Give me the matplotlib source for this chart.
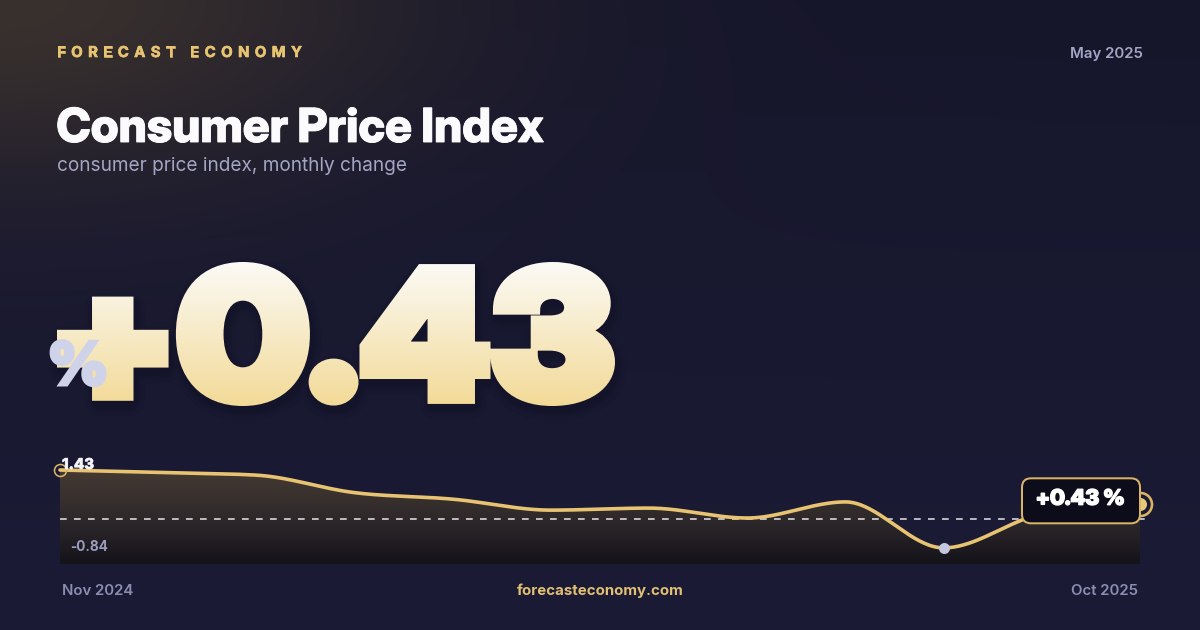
import os
import numpy as np
import matplotlib
matplotlib.use("Agg")
import matplotlib.pyplot as plt
from matplotlib.patches import Polygon, FancyBboxPatch
from matplotlib.textpath import TextPath, text_to_path
from matplotlib.font_manager import FontProperties, fontManager
from matplotlib.patheffects import AbstractPathEffect, withStroke
import matplotlib.transforms as mtransforms

# ---------------- data ----------------
months = ["Nov 2024", "Dec 2024", "Jan 2025", "Feb 2025", "Mar 2025", "Apr 2025",
          "May 2025", "Jun 2025", "Jul 2025", "Aug 2025", "Sep 2025", "Oct 2025"]
cpi_change = [1.43, 1.36, 1.28, 0.77, 0.58, 0.26, 0.32, 0.03, 0.50, -0.84, 0.15, 0.43]
baseline = 0.0
brand = "FORECAST ECONOMY"
title = "Consumer Price Index"
subtitle = "consumer price index, monthly change"
date_label = "May 2025"
site = "forecasteconomy.com"
latest_value = cpi_change[-1]

# ---------------- style ----------------
GOLD = "#e8c472"
W, H, DPI = 1200, 630, 100
plt.rcParams["lines.scale_dashes"] = False


def px(p):
    """pixel size -> points"""
    return p * 72.0 / DPI


def fprop(basename, family, weight, size_px):
    for f in fontManager.ttflist:
        if os.path.basename(f.fname) == basename:
            return FontProperties(fname=f.fname, size=px(size_px))
    return FontProperties(family=family, weight=weight, size=px(size_px))


class GradientText(AbstractPathEffect):
    """Fills (and emboldens) text glyphs with a vertical colour gradient."""

    def __init__(self, c_top, c_bot, stroke_px, target_w=None, shadow=()):
        super().__init__()
        self.c_top = np.asarray(c_top, float)
        self.c_bot = np.asarray(c_bot, float)
        self.stroke = stroke_px
        self.target_w = target_w
        self.shadow = shadow

    def draw_path(self, renderer, gc, tpath, affine, rgbFace=None):
        ext0 = tpath.get_extents(affine)
        sx = 1.0 if self.target_w is None else (self.target_w - self.stroke) / ext0.width
        aff = affine + mtransforms.Affine2D().translate(-ext0.x0, 0).scale(sx, 1).translate(ext0.x0, 0)
        ext = tpath.get_extents(aff)
        for dx, dy, lw, a in self.shadow:
            g = renderer.new_gc()
            g.copy_properties(gc)
            g.set_foreground((0.02, 0.02, 0.05))
            g.set_alpha(a)
            g.set_linewidth(px(lw))
            g.set_joinstyle("round")
            renderer.draw_path(g, tpath, aff + mtransforms.Affine2D().translate(dx, -dy), (0.02, 0.02, 0.05, a))
            g.restore()
        half = self.stroke / 2.0
        ytop = np.ceil(ext.y1 + half + 1)
        ybot = np.floor(ext.y0 - half - 1)
        edges = np.arange(ybot, ytop + 2, 2)
        for i in range(len(edges) - 1):
            mid = 0.5 * (edges[i] + edges[i + 1])
            f = np.clip((ytop - mid) / (ytop - ybot), 0, 1)
            col = tuple(self.c_top * (1 - f) + self.c_bot * f)
            g = renderer.new_gc()
            g.copy_properties(gc)
            g.set_clip_rectangle(mtransforms.Bbox([[ext.x0 - 60, edges[i]], [ext.x1 + 60, edges[i + 1]]]))
            g.set_foreground(col)
            g.set_alpha(1.0)
            g.set_linewidth(px(self.stroke))
            g.set_joinstyle("miter")
            renderer.draw_path(g, tpath, aff, col)
            g.restore()


def bolder(lw_px, color):
    return [withStroke(linewidth=px(lw_px), foreground=color, joinstyle="miter")]


fig = plt.figure(figsize=(W / DPI, H / DPI), dpi=DPI)

# background axes in pixel coordinates (top-down)
bg = fig.add_axes([0, 0, 1, 1])
bg.set_xlim(0, W)
bg.set_ylim(H, 0)
bg.axis("off")

yy, xx = np.mgrid[0:H, 0:W].astype(float)
top = np.array([0x16, 0x16, 0x2b]) / 255
bot = np.array([0x1b, 0x1b, 0x36]) / 255
base = top[None, None, :] * (1 - yy[..., None] / H) + bot[None, None, :] * (yy[..., None] / H)
glow_c = np.array([0x3c, 0x33, 0x2e]) / 255
w = np.exp(-((xx / 420) ** 2 + (yy / 185) ** 2))[..., None] * 0.92
img = base * (1 - w) + glow_c[None, None, :] * w
bg.imshow(img, extent=(0, W, H, 0), aspect="auto", zorder=0, interpolation="bilinear")

# ---------- header ----------
fp_brand = fprop("Inter-Bold.otf", "Inter", "bold", 15)
chars = list(brand)
widths = []
for ch in chars:
    if ch == " ":
        widths.append(text_to_path.get_text_width_height_descent("a a", fp_brand, ismath=False)[0]
                      - text_to_path.get_text_width_height_descent("aa", fp_brand, ismath=False)[0])
    else:
        widths.append(text_to_path.get_text_width_height_descent(ch, fp_brand, ismath=False)[0])
widths = np.array(widths) * DPI / 72.0
target_w = 245.0
spacing = (target_w - widths.sum()) / (len(chars) - 1)
xc = 57.0
for ch, wd in zip(chars, widths):
    bg.text(xc, 53, ch, fontproperties=fp_brand, color=GOLD, ha="left", va="center", zorder=5,
            path_effects=bolder(0.6, GOLD))
    xc += wd + spacing

bg.text(1143, 54, date_label, fontproperties=fprop("Inter-SemiBold.otf", "Inter", 600, 15),
        color="#a3a6c6", ha="right", va="center", zorder=5)
bg.text(56.5, 142, title, fontproperties=fprop("InterDisplay-ExtraBold.otf", "Inter Display", 800, 47),
        color="#fbfbfd", ha="left", va="baseline", zorder=5, path_effects=bolder(0.9, "#fbfbfd"))
bg.text(57, 166, subtitle, fontproperties=fprop("Inter-Regular.otf", "Inter", 400, 19),
        color="#a3a5c4", ha="left", va="center", zorder=5)

# ---------- big number (real text, gradient fill) ----------
big_txt = f"{latest_value:+.2f}"
S = 11.0
fp_big = fprop("InterDisplay-Black.otf", "Inter Display", 900, 100)
bbu = TextPath((0, 0), big_txt, size=100, prop=fp_big).get_extents()
font_px = (144.0 - S) / (bbu.height / 100.0)
lsb = bbu.x0 / 100.0 * font_px
under = -bbu.y0 / 100.0 * font_px
fp_big_sized = fp_big.copy()
fp_big_sized.set_size(px(font_px))
bg.text(57 + S / 2 - lsb, 406 - S / 2 - under, big_txt, fontproperties=fp_big_sized,
        color="#f6e6bc", ha="left", va="baseline", zorder=4,
        path_effects=[GradientText((0.984, 0.980, 0.965), (0.949, 0.851, 0.588), S, target_w=558,
                                   shadow=[(2, 6, 30, 0.05), (2, 5, 22, 0.06), (2, 5, 16, 0.08)])])

bg.text(78, 369, "%", fontproperties=fprop("InterDisplay-Black.otf", "Inter Display", 900, 60),
        color="#cfd3ea", ha="center", va="center", zorder=6, path_effects=bolder(3, "#cfd3ea"))

# ---------- footer ----------
fp_foot = fprop("Inter-SemiBold.otf", "Inter", 600, 15)
bg.text(62, 591, months[0], fontproperties=fp_foot, color="#8b8eb0", ha="left", va="center", zorder=5)
bg.text(1138, 591, months[-1], fontproperties=fp_foot, color="#8b8eb0", ha="right", va="center", zorder=5)
bg.text(600, 591, site, fontproperties=fprop("Inter-Bold.otf", "Inter", 700, 15),
        color="#e2bf72", ha="center", va="center", zorder=5)

# ---------- chart ----------
x = np.arange(len(cpi_change), dtype=float)
y = np.array(cpi_change, dtype=float)


def monotone(xv, yv, n=40):
    h = np.diff(xv)
    d = np.diff(yv) / h
    m = np.zeros_like(yv)
    for i in range(1, len(yv) - 1):
        p = (d[i - 1] * h[i] + d[i] * h[i - 1]) / (h[i - 1] + h[i])
        m[i] = (np.sign(d[i - 1]) + np.sign(d[i])) * min(abs(d[i - 1]), abs(d[i]), 0.5 * abs(p))
    m[0] = (3 * d[0] - m[1]) / 2
    m[-1] = (3 * d[-1] - m[-2]) / 2
    xs, ys = [], []
    for i in range(len(h)):
        t = np.linspace(0, 1, n, endpoint=(i == len(h) - 1))
        h00 = 2 * t**3 - 3 * t**2 + 1
        h10 = t**3 - 2 * t**2 + t
        h01 = -2 * t**3 + 3 * t**2
        h11 = t**3 - t**2
        xs.append(xv[i] + t * h[i])
        ys.append(h00 * yv[i] + h10 * h[i] * m[i] + h01 * yv[i + 1] + h11 * h[i] * m[i + 1])
    return np.concatenate(xs), np.concatenate(ys)


xs, ys = monotone(x, y)

ax = fig.add_axes([60 / W, (H - 564) / H, 1080 / W, 106 / H])
ax.patch.set_alpha(0)
ax.axis("off")
ylo = y.min() - 0.47
yhi = y.max() + 0.35
ax.set_xlim(0, len(y) - 1)
ax.set_ylim(ylo, yhi)

verts = list(zip(xs, ys)) + [(xs[-1], ylo), (xs[0], ylo)]
poly = Polygon(verts, closed=True, facecolor="none", edgecolor="none")
ax.add_patch(poly)
t = np.linspace(0, 1, 200)[:, None]
stops_t = [0.0, 0.64, 1.0]
stops_c = [np.array([0x4b, 0x3f, 0x35]), np.array([0x2b, 0x26, 0x29]), np.array([0x14, 0x12, 0x1a])]
fill_img = np.zeros((200, 1, 3))
for ch in range(3):
    fill_img[:, 0, ch] = np.interp(t[:, 0], stops_t, [c[ch] for c in stops_c]) / 255
fi = ax.imshow(fill_img, extent=(0, len(y) - 1, ylo, yhi), aspect="auto", origin="upper",
               zorder=1, interpolation="bilinear")
fi.set_clip_path(poly)
ax.set_xlim(0, len(y) - 1)
ax.set_ylim(ylo, yhi)

ax.plot([0, len(y) - 1 + 0.05], [baseline, baseline], color="#e9e9f2", lw=px(1.5),
        dashes=(px(6.7), px(7.3)), zorder=2, clip_on=False)
ax.plot(xs, ys, color=GOLD, lw=px(3.6), zorder=3, solid_capstyle="round", clip_on=False)

# first point ring
ax.plot(x[0], y[0], "o", ms=px(12), mfc="none", mec="#d9b462", mew=px(1.6), zorder=4, clip_on=False)
# min point
imin = int(np.argmin(y))
ax.plot(x[imin], y[imin], "o", ms=px(11), mfc="#c3c7de", mec="none", zorder=4, clip_on=False)

# min / max labels
ax.annotate(f"{y.max():.2f}", xy=(x[0], y.max()), xytext=(px(2), px(5)), textcoords="offset points",
            fontproperties=fprop("Inter-ExtraBold.otf", "Inter", 800, 15), color="#f3f3f8",
            ha="left", va="center", zorder=5, annotation_clip=False, path_effects=bolder(0.6, "#f3f3f8"))
ax.annotate(f"{y.min():.2f}", xy=(x[0], ylo), xytext=(px(10), px(17)), textcoords="offset points",
            fontproperties=fprop("Inter-Bold.otf", "Inter", 700, 13.5), color="#9a9dbf",
            ha="left", va="center", zorder=5, annotation_clip=False)

# latest value callout
fig.canvas.draw()
lx, ly = ax.transData.transform((x[-1], y[-1]))
off = mtransforms.Affine2D().translate(lx, ly)
box = FancyBboxPatch((-118, -19), 118, 45, boxstyle="round,pad=0,rounding_size=9",
                     facecolor="#0c0c1a", edgecolor="#d8b466", lw=px(2), transform=off, zorder=6)
fig.patches.append(box)
box.set_figure(fig)
fig.text(lx - 60, ly + 5, f"{latest_value:+.2f} %",
         fontproperties=fprop("InterDisplay-Black.otf", "Inter Display", 900, 21.5),
         color="#ffffff", ha="center", va="center", transform=mtransforms.IdentityTransform(), zorder=7,
         path_effects=bolder(1.2, "#ffffff"))
ax.plot(x[-1], y[-1], "o", ms=px(23), mfc="none", mec="#d9b462", mew=px(2.6), zorder=8, clip_on=False)
ax.plot(x[-1], y[-1], "o", ms=px(13), mfc="#e8c87a", mec="none", zorder=9, clip_on=False)
ax.set_zorder(3)

fig.savefig("out.png", dpi=DPI)
